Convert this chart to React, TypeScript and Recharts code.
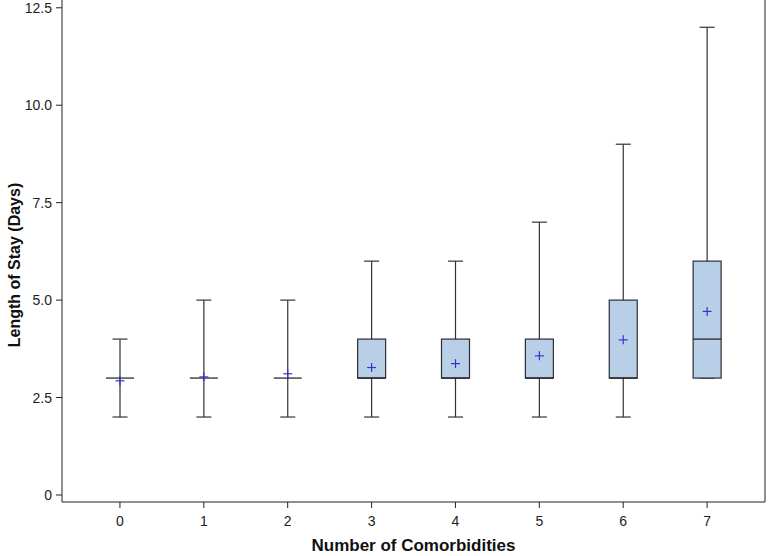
import { Bar, ComposedChart, XAxis, YAxis } from "recharts"

const CATEGORIES = ["0", "1", "2", "3", "4", "5", "6", "7"]
const MIN_VALUES = [2, 2, 2, 2, 2, 2, 2, 3]
const Q1_VALUES = [3, 3, 3, 3, 3, 3, 3, 3]
const MEDIAN_VALUES = [3, 3, 3, 3, 3, 3, 3, 4]
const Q3_VALUES = [3, 3, 3, 4, 4, 4, 5, 6]
const MAX_VALUES = [4, 5, 5, 6, 6, 7, 9, 12]
const MEAN_VALUES = [2.93, 3.03, 3.11, 3.27, 3.37, 3.57, 3.98, 4.71]
const Y_TICKS = [0, 2.5, 5, 7.5, 10, 12.5]

const data = CATEGORIES.map((cat, i) => ({
  cat,
  min: MIN_VALUES[i],
  q1: Q1_VALUES[i],
  median: MEDIAN_VALUES[i],
  q3: Q3_VALUES[i],
  max: MAX_VALUES[i],
  mean: MEAN_VALUES[i],
}))

const FONT = "'Liberation Sans', Arial, Helvetica, sans-serif"

// one bar per category spans min..max; the rest of the box is placed on that same scale
function BoxShape(props: any) {
  const { x, y, width, height, payload } = props
  if (!payload) return null
  const top = Math.min(y, y + height)
  const bottom = Math.max(y, y + height)
  const k = (bottom - top) / (payload.max - payload.min)
  const py = (v: number) => bottom - (v - payload.min) * k
  const cx = x + width / 2
  const cap = 7.5
  const yq1 = py(payload.q1)
  const yq3 = py(payload.q3)
  const ymed = py(payload.median)
  const ymean = py(payload.mean)
  return (
    <g>
      {/* whiskers */}
      <line x1={cx} x2={cx} y1={py(payload.max)} y2={py(payload.min)} stroke="#333" strokeWidth={1.2} />
      <line x1={cx - cap} x2={cx + cap} y1={py(payload.max)} y2={py(payload.max)} stroke="#333" strokeWidth={1.2} />
      <line x1={cx - cap} x2={cx + cap} y1={py(payload.min)} y2={py(payload.min)} stroke="#333" strokeWidth={1.2} />
      {/* box */}
      <rect x={x} y={yq3} width={width} height={yq1 - yq3} fill="#b8cfe7" stroke="#2a2e33" strokeWidth={1.2} />
      {/* median */}
      <line x1={x} x2={x + width} y1={ymed} y2={ymed} stroke="#1a1a1a" strokeWidth={1.2} />
      {/* mean */}
      <line x1={cx - 4.5} x2={cx + 4.5} y1={ymean} y2={ymean} stroke="#3434d0" strokeWidth={1.2} />
      <line x1={cx} x2={cx} y1={ymean - 4.5} y2={ymean + 4.5} stroke="#3434d0" strokeWidth={1.2} />
    </g>
  )
}

function YLabel() {
  return (
    <text
      x={14}
      y={265}
      transform="rotate(-90, 14, 265)"
      textAnchor="middle"
      dominantBaseline="central"
      fontFamily={FONT}
      fontWeight="bold"
      fontSize={16}
      fill="#111"
    >
      Length of Stay (Days)
    </text>
  )
}

export default function App() {
  return (
    <div style={{ width: 769, height: 556 }}>
      <style>{`body{margin:0}`}</style>
      <ComposedChart
        width={769}
        height={556}
        data={data}
        margin={{ top: 0, right: 0, bottom: 0, left: 0 }}
      >
        <XAxis
          dataKey="cat"
          type="category"
          height={54}
          padding={{ left: 16, right: 16 }}
          stroke="#222"
          tickSize={6}
          tickMargin={8}
          tick={{ fontSize: 14, fontFamily: FONT, fill: "#222" }}
          label={{
            value: "Number of Comorbidities",
            position: "insideBottom",
            offset: 5,
            style: { fontFamily: FONT, fontWeight: "bold", fontSize: 17, fill: "#111" },
          }}
        />
        <YAxis
          yAxisId="left"
          type="number"
          width={62}
          domain={[-0.18, 12.7]}
          allowDataOverflow
          ticks={Y_TICKS}
          interval={0}
          stroke="#222"
          tickSize={6}
          tickMargin={4}
          tickFormatter={(v: number) => (v === 0 ? "0" : v.toFixed(1))}
          tick={{ fontSize: 14, fontFamily: FONT, fill: "#222" }}
          label={<YLabel />}
        />
        <YAxis
          yAxisId="right"
          orientation="right"
          type="number"
          width={4}
          domain={[-0.18, 12.7]}
          allowDataOverflow
          tick={false}
          tickLine={false}
          stroke="#222"
        />
        <Bar
          yAxisId="left"
          dataKey={(d: any) => [d.min, d.max]}
          barSize={28}
          shape={<BoxShape />}
          isAnimationActive={false}
        />
      </ComposedChart>
    </div>
  )
}
